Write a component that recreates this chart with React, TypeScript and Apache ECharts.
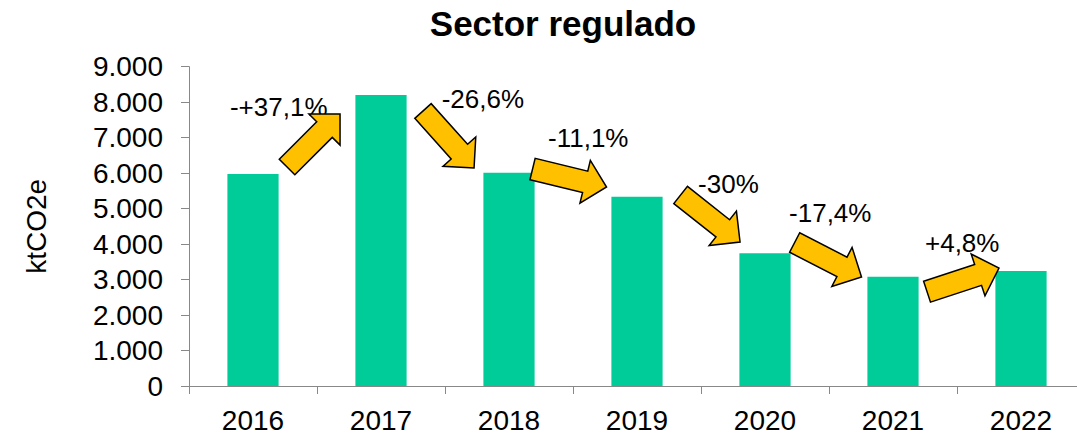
import React, { useEffect, useRef } from "react";
import * as echarts from "echarts";

const categories = ["2016", "2017", "2018", "2019", "2020", "2021", "2022"];
const emissions = [5975, 8200, 6010, 5335, 3740, 3080, 3240];
const changeLabels = ["-+37,1%", "-26,6%", "-11,1%", "-30%", "-17,4%", "+4,8%"];
// arrow tails / tips in (category units, value) coordinates
const arrowFromX = [0.266, 1.328, 2.184, 3.341, 4.232, 5.266];
const arrowFromV = [6172, 7751, 6116, 5383, 4045, 2658];
const arrowToX = [0.68, 1.727, 2.762, 3.805, 4.754, 5.828];
const arrowToV = [7666, 6144, 5609, 4059, 3072, 3326];
// label anchor (left edge, vertical middle)
const labelX = [-0.18, 1.474, 2.305, 3.477, 4.188, 5.25];
const labelV = [7864, 8089, 6990, 5693, 4876, 4030];

const FONT = "'Liberation Sans', Arial, sans-serif";

function arrowPoints(tx: number, ty: number, px: number, py: number) {
  const dx = px - tx;
  const dy = py - ty;
  const len = Math.sqrt(dx * dx + dy * dy);
  const ux = dx / len;
  const uy = dy / len;
  const nx = -uy;
  const ny = ux;
  const headLen = 22;
  const shaftHalf = 11;
  const headHalf = 22;
  const bx = px - ux * headLen;
  const by = py - uy * headLen;
  return [
    [tx + nx * shaftHalf, ty + ny * shaftHalf],
    [bx + nx * shaftHalf, by + ny * shaftHalf],
    [bx + nx * headHalf, by + ny * headHalf],
    [px, py],
    [bx - nx * headHalf, by - ny * headHalf],
    [bx - nx * shaftHalf, by - ny * shaftHalf],
    [tx - nx * shaftHalf, ty - ny * shaftHalf],
  ];
}

export default function App() {
  const ref = useRef<HTMLDivElement>(null);
  useEffect(() => {
    if (!ref.current) return;
    const chart = echarts.init(ref.current, null, { renderer: "svg" });
    const renderItem = (params: any, api: any) => {
      const i = params.dataIndex;
      const c0 = api.coord([0, 0]);
      const band = api.size([1, 0])[0];
      const px = (x: number) => c0[0] + x * band;
      const py = (v: number) => api.coord([0, v])[1];
      return {
        type: "group",
        children: [
          {
            type: "text",
            style: {
              text: changeLabels[i],
              x: px(labelX[i]),
              y: py(labelV[i]),
              fontSize: 26,
              fontFamily: FONT,
              fill: "#000",
              align: "left",
              verticalAlign: "middle",
            },
          },
          {
            type: "polygon",
            shape: {
              points: arrowPoints(
                px(arrowFromX[i]),
                py(arrowFromV[i]),
                px(arrowToX[i]),
                py(arrowToV[i])
              ),
            },
            style: { fill: "#FFC000", stroke: "#000", lineWidth: 1.5 },
          },
        ],
      };
    };
    chart.setOption({
      animation: false,
      title: {
        text: "Sector regulado",
        left: 558,
        top: 1,
        textAlign: "center",
        textStyle: { fontSize: 35, fontWeight: "bold", fontFamily: FONT, color: "#000" },
      },
      grid: { left: 189, right: 0, top: 66.7, bottom: 51 },
      xAxis: {
        type: "category",
        data: categories,
        axisLine: { lineStyle: { color: "#888", width: 1 } },
        axisTick: { show: true, length: 8, lineStyle: { color: "#888" } },
        axisLabel: { fontSize: 28, fontFamily: FONT, color: "#000", margin: 20 },
      },
      yAxis: {
        type: "value",
        min: 0,
        max: 9000,
        interval: 1000,
        name: "ktCO2e",
        nameLocation: "middle",
        nameGap: 139,
        nameRotate: 90,
        nameTextStyle: { fontSize: 28, fontFamily: FONT, color: "#000" },
        axisLine: { show: true, lineStyle: { color: "#888", width: 1 } },
        axisTick: { show: true, length: 8, lineStyle: { color: "#888" } },
        splitLine: { show: false },
        axisLabel: {
          fontSize: 28,
          fontFamily: FONT,
          color: "#000",
          margin: 26,
          formatter: (v: number) => String(v).replace(/\B(?=(\d{3})+(?!\d))/g, "."),
        },
      },
      series: [
        {
          type: "bar",
          data: emissions,
          barWidth: "40%",
          itemStyle: { color: "#00CC99" },
          z: 2,
        },
        {
          type: "custom",
          data: changeLabels.map((_, i) => [i, 0]),
          renderItem,
          clip: false,
          z: 5,
        },
      ],
    });
    return () => chart.dispose();
  }, []);
  return (
    <div
      style={{
        position: "fixed",
        left: 0,
        top: 0,
        width: 1077,
        height: 437,
        overflow: "hidden",
        background: "#fff",
      }}
    >
      <div ref={ref} style={{ width: 1085, height: 437 }} />
    </div>
  );
}
